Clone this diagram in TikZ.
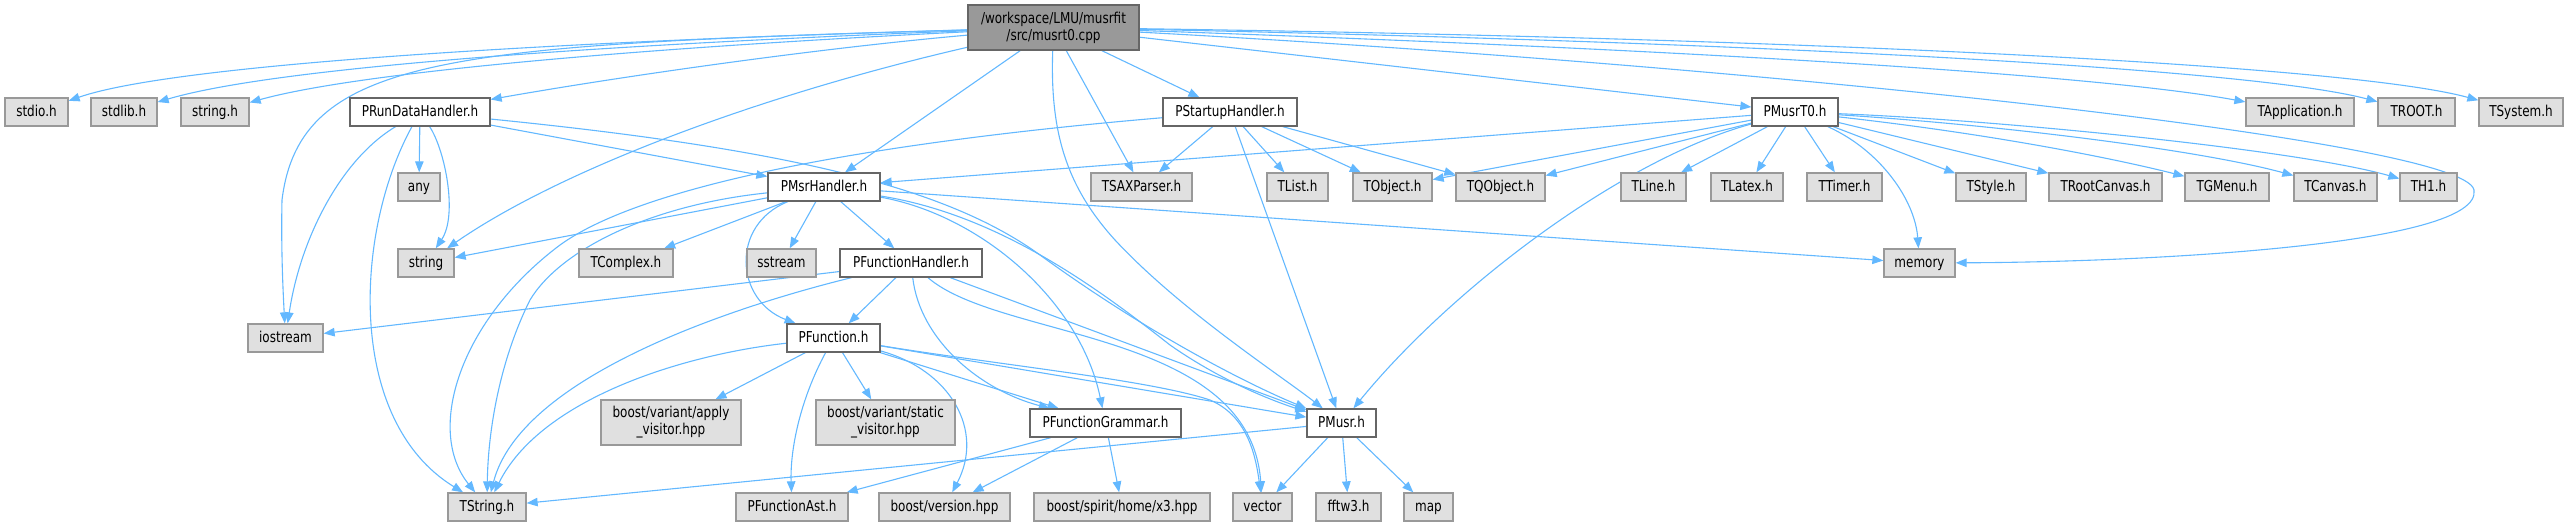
\documentclass[tikz,border=0pt]{standalone}
\usepackage{fontspec}
\setmainfont{DejaVu Sans}[FakeStretch=0.8]
\usetikzlibrary{arrows.meta}
\definecolor{edgeblue}{HTML}{63B8FF}
\definecolor{nodegray}{HTML}{999999}
\definecolor{nodefill}{HTML}{E0E0E0}
\definecolor{nodedark}{HTML}{666666}
\definecolor{mainfill}{HTML}{999999}
\newcommand{\dxfont}{\fontsize{15pt}{17pt}\selectfont}
\pgfdeclarelayer{bg}
\pgfsetlayers{bg,main}
\tikzset{
  nb/.style={rectangle, draw=nodegray, fill=nodefill, line width=1.3pt, inner sep=0pt, minimum height=28pt, font=\dxfont, text height=11.5pt, text depth=2.5pt},
  nw/.style={nb, draw=nodedark, fill=white},
  nbtwo/.style={rectangle, draw=nodegray, fill=nodefill, line width=1.3pt, inner sep=0pt, minimum height=45pt, font=\dxfont, align=center},
  nmain/.style={nbtwo, draw=nodedark, fill=mainfill},
  dep/.style={draw=edgeblue, line width=1.1pt, -{Triangle[length=11pt,width=8.5pt]}}
}
\begin{document}
\begin{tikzpicture}[x=1pt,y=-1pt]
\useasboundingbox (0,0) rectangle (2568,526);
% row 0
\node[nmain, minimum width=171pt] (main) at (1053.5,27.5) {/workspace/LMU/musrfit\\/src/musrt0.cpp};
% row 1
\node[nb, minimum width=63pt] (stdio) at (36.5,112) {stdio.h};
\node[nb, minimum width=66pt] (stdlib) at (124,112) {stdlib.h};
\node[nb, minimum width=68pt] (stringh) at (215,112) {string.h};
\node[nw, minimum width=140pt] (prun) at (420,112) {PRunDataHandler.h};
\node[nw, minimum width=134pt] (pstart) at (1230,112) {PStartupHandler.h};
\node[nw, minimum width=86pt] (pmusrt0) at (1795,112) {PMusrT0.h};
\node[nb, minimum width=108pt] (tapp) at (2300,112) {TApplication.h};
\node[nb, minimum width=77pt] (troot) at (2416.5,112) {TROOT.h};
\node[nb, minimum width=84pt] (tsys) at (2521,112) {TSystem.h};
% row 2
\node[nb, minimum width=42pt] (any) at (419,187) {any};
\node[nw, minimum width=112pt] (pmsr) at (824,187) {PMsrHandler.h};
\node[nb, minimum width=101pt] (tsax) at (1141.5,187) {TSAXParser.h};
\node[nb, minimum width=61pt] (tlist) at (1297.5,187) {TList.h};
\node[nb, minimum width=79pt] (tobj) at (1392.5,187) {TObject.h};
\node[nb, minimum width=89pt] (tqobj) at (1500.5,187) {TQObject.h};
\node[nb, minimum width=65pt] (tline) at (1653.5,187) {TLine.h};
\node[nb, minimum width=72pt] (tlatex) at (1747,187) {TLatex.h};
\node[nb, minimum width=75pt] (ttimer) at (1844.5,187) {TTimer.h};
\node[nb, minimum width=70pt] (tstyle) at (1991,187) {TStyle.h};
\node[nb, minimum width=113pt] (trootc) at (2105.5,187) {TRootCanvas.h};
\node[nb, minimum width=84pt] (tgmenu) at (2227,187) {TGMenu.h};
\node[nb, minimum width=83pt] (tcanvas) at (2335.5,187) {TCanvas.h};
\node[nb, minimum width=57pt] (th1) at (2428.5,187) {TH1.h};
% row 3
\node[nb, minimum width=56pt] (string) at (426,263) {string};
\node[nb, minimum width=94pt] (tcomplex) at (626,263) {TComplex.h};
\node[nb, minimum width=69pt] (sstream) at (781.5,263) {sstream};
\node[nw, minimum width=142pt] (pfh) at (911,263) {PFunctionHandler.h};
\node[nb, minimum width=71pt] (memory) at (1919.5,263) {memory};
% row 4
\node[nb, minimum width=75pt] (iostream) at (285.5,338) {iostream};
\node[nw, minimum width=93pt] (pfunc) at (833.5,338) {PFunction.h};
% row 5
\node[nbtwo, minimum width=140pt] (applyv) at (671,422.5) {boost/variant/apply\\\_visitor.hpp};
\node[nbtwo, minimum width=139pt] (staticv) at (885.5,422.5) {boost/variant/static\\\_visitor.hpp};
\node[nw, minimum width=151pt] (pfg) at (1105.5,423) {PFunctionGrammar.h};
\node[nw, minimum width=69pt] (pmusr) at (1341.5,423) {PMusr.h};
% row 6
\node[nb, minimum width=78pt] (tstring) at (487,507) {TString.h};
\node[nb, minimum width=112pt] (pfast) at (792,507) {PFunctionAst.h};
\node[nb, minimum width=131pt] (bversion) at (944.5,507) {boost/version.hpp};
\node[nb, minimum width=176pt] (bx3) at (1122,507) {boost/spirit/home/x3.hpp};
\node[nb, minimum width=59pt] (vector) at (1262.5,507) {vector};
\node[nb, minimum width=65pt] (fftw) at (1348.5,507) {fftw3.h};
\node[nb, minimum width=49pt] (map) at (1428.5,507) {map};

\begin{pgfonlayer}{bg}
% main
\draw[dep] (main) .. controls (600,40) and (180,62) .. (stdio);
\draw[dep] (main) .. controls (620,44) and (280,66) .. (stdlib);
\draw[dep] (main) .. controls (640,48) and (360,72) .. (stringh);
\draw[dep] (main) .. controls (450,45) and (300,55) .. (282,200) .. controls (281,250) and (283,290) .. (iostream);
\draw[dep] (main) .. controls (800,50) and (600,80) .. (prun);
\draw[dep] (main) .. controls (760,95) and (560,170) .. (string);
\draw[dep] (main) -- (pmsr);
\draw[dep] (main) .. controls (1050,130) and (1065,185) .. (1115,240) .. controls (1180,310) and (1280,375) .. (pmusr);
\draw[dep] (main) -- (tsax);
\draw[dep] (main) -- (pstart);
\draw[dep] (main) -- (pmusrt0);
\draw[dep] (main) .. controls (1750,65) and (2465,140) .. (2474,190) .. controls (2483,245) and (2150,262) .. (memory);
\draw[dep] (main) .. controls (1700,50) and (2100,75) .. (tapp);
\draw[dep] (main) .. controls (1750,42) and (2250,68) .. (troot);
\draw[dep] (main) .. controls (1800,38) and (2350,65) .. (tsys);
% PRunDataHandler
\draw[dep] (prun) -- (any);
\draw[dep] (prun) .. controls (445,150) and (458,215) .. (string);
\draw[dep] (prun) .. controls (340,160) and (300,240) .. (iostream);
\draw[dep] (prun) .. controls (355,230) and (345,420) .. (tstring);
\draw[dep] (prun) -- (pmsr);
\draw[dep] (prun) .. controls (800,150) and (950,190) .. (1040,255) .. controls (1150,335) and (1250,385) .. (pmusr);
% PMsrHandler
\draw[dep] (pmsr) -- (string);
\draw[dep] (pmsr) .. controls (650,205) and (560,250) .. (530,300) .. controls (500,360) and (488,430) .. (tstring);
\draw[dep] (pmsr) -- (tcomplex);
\draw[dep] (pmsr) -- (sstream);
\draw[dep] (pmsr) -- (pfh);
\draw[dep] (pmsr) .. controls (730,225) and (735,300) .. (pfunc);
\draw[dep] (pmsr) .. controls (980,215) and (1080,300) .. (pfg);
\draw[dep] (pmsr) .. controls (1000,215) and (1100,290) .. (1170,345) .. controls (1220,380) and (1270,400) .. (pmusr);
\draw[dep] (pmsr) -- (memory);
% PFunctionHandler
\draw[dep] (pfh) -- (iostream);
\draw[dep] (pfh) .. controls (720,310) and (520,380) .. (tstring);
\draw[dep] (pfh) -- (pfunc);
\draw[dep] (pfh) .. controls (920,340) and (980,390) .. (pfg);
\draw[dep] (pfh) -- (pmusr);
\draw[dep] (pfh) .. controls (1000,340) and (1250,330) .. (vector);
% PFunction
\draw[dep] (pfunc) .. controls (680,355) and (540,400) .. (tstring);
\draw[dep] (pfunc) -- (applyv);
\draw[dep] (pfunc) -- (staticv);
\draw[dep] (pfunc) .. controls (800,400) and (790,450) .. (pfast);
\draw[dep] (pfunc) .. controls (950,370) and (985,430) .. (bversion);
\draw[dep] (pfunc) -- (pfg);
\draw[dep] (pfunc) -- (pmusr);
\draw[dep] (pfunc) .. controls (1000,365) and (1150,380) .. (1210,400) .. controls (1245,415) and (1255,450) .. (vector);
% PFunctionGrammar
\draw[dep] (pfg) -- (pfast);
\draw[dep] (pfg) -- (bversion);
\draw[dep] (pfg) -- (bx3);
% PMusr
\draw[dep] (pmusr) -- (vector);
\draw[dep] (pmusr) -- (fftw);
\draw[dep] (pmusr) -- (map);
\draw[dep] (pmusr) -- (tstring);
% PStartupHandler
\draw[dep] (pstart) -- (tsax);
\draw[dep] (pstart) -- (tlist);
\draw[dep] (pstart) -- (tobj);
\draw[dep] (pstart) -- (tqobj);
\draw[dep] (pstart) -- (pmusr);
\draw[dep] (pstart) .. controls (900,140) and (650,180) .. (560,245) .. controls (460,320) and (425,430) .. (tstring);
% PMusrT0
\draw[dep] (pmusrt0) -- (pmsr);
\draw[dep] (pmusrt0) -- (tobj);
\draw[dep] (pmusrt0) -- (tqobj);
\draw[dep] (pmusrt0) .. controls (1620,160) and (1450,290) .. (pmusr);
\draw[dep] (pmusrt0) -- (tline);
\draw[dep] (pmusrt0) -- (tlatex);
\draw[dep] (pmusrt0) -- (ttimer);
\draw[dep] (pmusrt0) .. controls (1880,150) and (1915,200) .. (memory);
\draw[dep] (pmusrt0) -- (tstyle);
\draw[dep] (pmusrt0) -- (trootc);
\draw[dep] (pmusrt0) .. controls (2000,135) and (2120,160) .. (tgmenu);
\draw[dep] (pmusrt0) .. controls (2000,125) and (2200,150) .. (tcanvas);
\draw[dep] (pmusrt0) .. controls (2000,120) and (2300,150) .. (th1);
\end{pgfonlayer}
\end{tikzpicture}
\end{document}
